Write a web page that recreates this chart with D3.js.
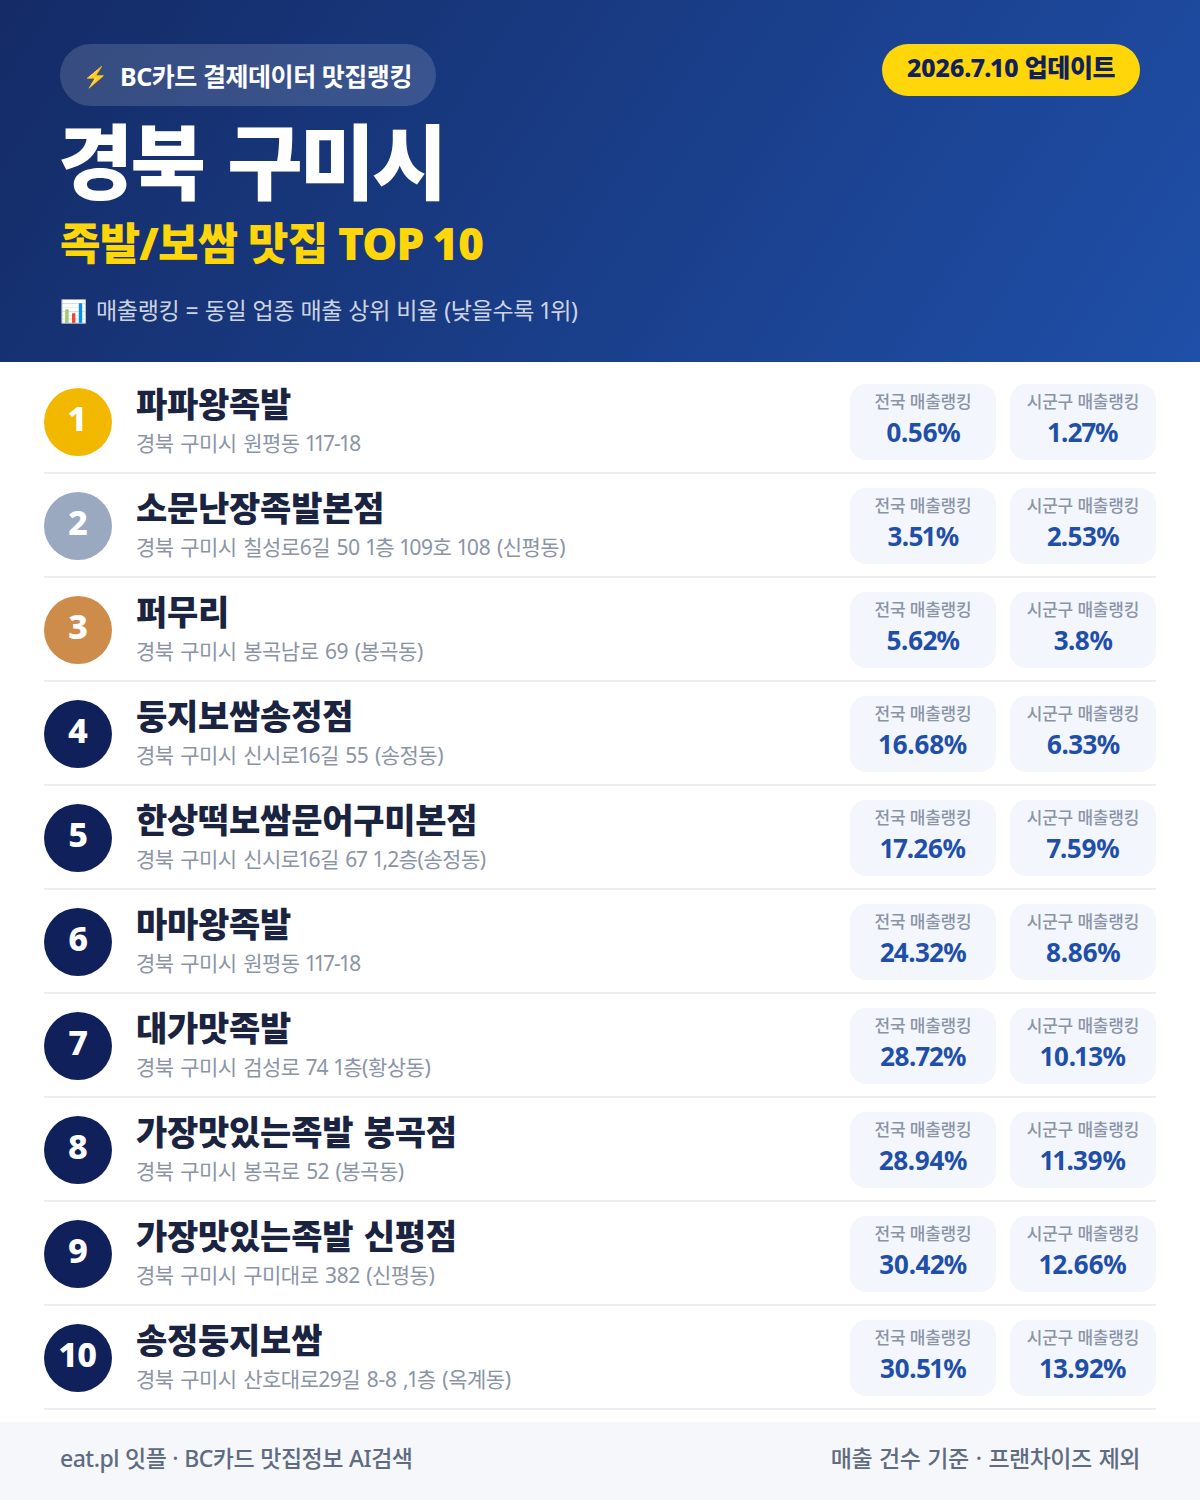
<!DOCTYPE html>
<html lang="ko"><head><meta charset="utf-8">
<script src="https://cdn.jsdelivr.net/npm/d3@7"></script>
<style>
html,body{margin:0;padding:0;background:#fff}
svg{display:block}
text{font-family:"Noto Sans","Noto Sans CJK KR",sans-serif;font-feature-settings:"pnum" 1}
</style></head><body><div id="c"></div>
<script>
const ranks=[1,2,3,4,5,6,7,8,9,10];
const names=["파파왕족발","소문난장족발본점","퍼무리","둥지보쌈송정점","한상떡보쌈문어구미본점","마마왕족발","대가맛족발","가장맛있는족발 봉곡점","가장맛있는족발 신평점","송정둥지보쌈"];
const addresses=["경북 구미시 원평동 117-18","경북 구미시 칠성로6길 50 1층 109호 108 (신평동)","경북 구미시 봉곡남로 69 (봉곡동)","경북 구미시 신시로16길 55 (송정동)","경북 구미시 신시로16길 67 1,2층(송정동)","경북 구미시 원평동 117-18","경북 구미시 검성로 74 1층(황상동)","경북 구미시 봉곡로 52 (봉곡동)","경북 구미시 구미대로 382 (신평동)","경북 구미시 산호대로29길 8-8 ,1층 (옥계동)"];
const nationalValues=["0.56%","3.51%","5.62%","16.68%","17.26%","24.32%","28.72%","28.94%","30.42%","30.51%"];
const localValues=["1.27%","2.53%","3.8%","6.33%","7.59%","8.86%","10.13%","11.39%","12.66%","13.92%"];
const cardLabels=["전국 매출랭킹","시군구 매출랭킹"];
const medalColors=["#f2b800","#9aa8c0","#cd8c4a"];
const plainColor="#10205a";

const W=1200,H=1500;
const svg=d3.select("#c").append("svg").attr("width",W).attr("height",H).attr("viewBox",[0,0,W,H]);
const defs=svg.append("defs");
const g=defs.append("linearGradient").attr("id","hd").attr("gradientUnits","userSpaceOnUse")
 .attr("x1",100).attr("y1",-150).attr("x2",1100).attr("y2",512);
g.append("stop").attr("offset",0).attr("stop-color","#142b66");
g.append("stop").attr("offset",1).attr("stop-color","#1f4fa8");
svg.append("rect").attr("width",W).attr("height",362).attr("fill","url(#hd)");

const t=(sel,x,y,s,size,w,fill,anchor,ls)=>sel.append("text").attr("x",x).attr("y",y).attr("font-size",size).attr("font-weight",w).attr("fill",fill).attr("text-anchor",anchor||"start").attr("letter-spacing",ls||0).text(s);

svg.append("rect").attr("x",60).attr("y",44).attr("width",376).attr("height",62).attr("rx",31).attr("fill","#fff").attr("fill-opacity",.15);
t(svg,83,84,"⚡",20,400,"#fff");
t(svg,120,86,"BC카드 결제데이터 맛집랭킹",25,700,"#fff","start",-0.45);
t(svg,58,193,"경북 구미시",82,900,"#fff","start",-3).attr("word-spacing",6);
t(svg,60,260,"족발/보쌈 맛집 TOP 10",44,900,"#ffd60a","start",-0.8);
t(svg,60,319,"📊",22,400,"#fff");
t(svg,96,319,"매출랭킹 = 동일 업종 매출 상위 비율 (낮을수록 1위)",23,400,"#fff","start",-0.3).attr("word-spacing",0.5).attr("fill-opacity",.8);
svg.append("rect").attr("x",882).attr("y",44).attr("width",258).attr("height",52).attr("rx",26).attr("fill","#ffd60a");
t(svg,1011,77,"2026.7.10 업데이트",25,800,"#10205a","middle",-0.4);

const y=d3.scaleBand().domain(ranks).range([370,1410]);
const rows=svg.selectAll("g.row").data(ranks).join("g").attr("class","row").attr("transform",d=>`translate(0,${y(d)})`);
rows.append("rect").attr("x",44).attr("y",102).attr("width",1112).attr("height",2).attr("fill","#eceef1");
rows.append("circle").attr("cx",78).attr("cy",52).attr("r",34).attr("fill",(d,i)=>medalColors[i]||plainColor);
rows.append("text").attr("x",78).attr("y",60.5).attr("text-anchor","middle").attr("font-size",34).attr("font-weight",800).attr("fill","#fff").attr("letter-spacing",d=>d>9?-1:0).text(d=>d);
rows.append("text").attr("x",136).attr("y",47).attr("font-size",34).attr("font-weight",900).attr("fill","#1a2340").attr("letter-spacing",-0.25).attr("word-spacing",2).text((d,i)=>names[i]);
rows.append("text").attr("x",136).attr("y",81).attr("font-size",21).attr("font-weight",400).attr("fill","#8a94a6").attr("letter-spacing",-0.5).attr("word-spacing",1.6).text((d,i)=>addresses[i]);
[[850,nationalValues],[1010,localValues]].forEach(([x,vals],k)=>{
 rows.append("rect").attr("x",x).attr("y",14).attr("width",146).attr("height",76).attr("rx",16).attr("fill","#f3f6fc");
 rows.append("text").attr("x",x+73).attr("y",38).attr("text-anchor","middle").attr("font-size",17).attr("font-weight",500).attr("fill","#8a94a6").attr("letter-spacing",-0.15).text(cardLabels[k]);
 rows.append("text").attr("x",x+73).attr("y",71.5).attr("text-anchor","middle").attr("font-size",26).attr("font-weight",700).attr("fill","#1f4fa8").attr("letter-spacing",-0.6).text((d,i)=>vals[i]);
});
svg.append("rect").attr("y",1422).attr("width",W).attr("height",78).attr("fill","#f5f7fa");
t(svg,60,1467,"eat.pl 잇플 · BC카드 맛집정보 AI검색",23,500,"#5f6b80","start",-0.5).attr("word-spacing",0.6);
t(svg,1140,1467,"매출 건수 기준 · 프랜차이즈 제외",23,500,"#5f6b80","end",-0.5).attr("word-spacing",1.5);
</script></body></html>
